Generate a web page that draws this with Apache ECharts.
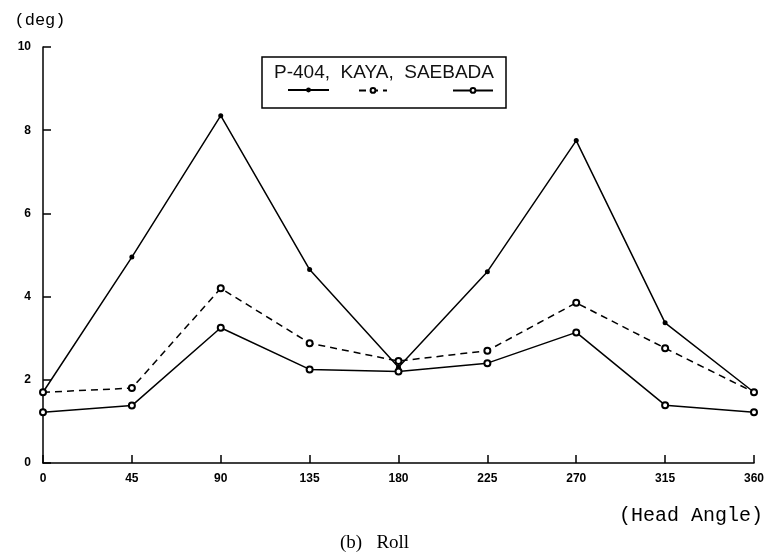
<!DOCTYPE html>
<html>
<head>
<meta charset="utf-8">
<script src="https://cdn.jsdelivr.net/npm/echarts@6/dist/echarts.min.js"></script>
<style>
  html, body { margin: 0; padding: 0; background: #fff; }
  #main { width: 767px; height: 558px; }
</style>
</head>
<body>
<div id="main"></div>
<script>
// head angle (deg)
var headAngles = ['0', '45', '90', '135', '180', '225', '270', '315', '360'];
// roll (deg)
var p404    = [1.7, 4.95, 8.35, 4.65, 2.3, 4.6, 7.75, 3.37, 1.7];
var kaya    = [1.7, 1.8, 4.2, 2.88, 2.45, 2.7, 3.85, 2.76, 1.7];
var saebada = [1.22, 1.38, 3.25, 2.25, 2.2, 2.4, 3.14, 1.39, 1.22];
var yTicks  = [0, 2, 4, 6, 8, 10];

var chart = echarts.init(document.getElementById('main'));

var labelFont = { color: '#000', fontSize: 12, fontWeight: 'bold', fontFamily: 'Liberation Sans' };

function legendAt(name, left, width) {
  return {
    data: [name],
    left: left,
    top: 87,
    padding: 0,
    itemWidth: width,
    itemHeight: 6,
    formatter: function () { return ''; },
    selectedMode: false
  };
}

chart.setOption({
  animation: false,
  backgroundColor: '#fff',
  title: [{
    text: 'P-404,  KAYA,  SAEBADA',
    left: 262,
    top: 57,
    padding: [6, 12, 26, 12],
    borderColor: '#000',
    borderWidth: 1.5,
    textStyle: { fontSize: 19, fontWeight: 'normal', color: '#111', fontFamily: 'Liberation Sans' }
  }, {
    text: '(Head Angle)',
    right: 4,
    top: 506,
    padding: 0,
    textStyle: { fontSize: 20, fontWeight: 'normal', color: '#000', fontFamily: 'Liberation Mono' }
  }, {
    text: '(b)   Roll',
    left: 340,
    top: 534,
    padding: 0,
    textStyle: { fontSize: 19, fontWeight: 'normal', color: '#000', fontFamily: 'Liberation Serif' }
  }],
  legend: [
    legendAt('P-404', 287, 41),
    legendAt('KAYA', 358, 28),
    legendAt('SAEBADA', 452, 40)
  ],
  grid: { left: 43, right: 12, top: 47, bottom: 95 },
  xAxis: {
    type: 'category',
    data: headAngles,
    boundaryGap: false,
    axisLine: { lineStyle: { color: '#000', width: 1.5 } },
    axisTick: { inside: true, length: 8, lineStyle: { color: '#000', width: 1.5 } },
    axisLabel: Object.assign({ margin: 10 }, labelFont),
    splitLine: { show: false }
  },
  yAxis: {
    type: 'value',
    min: yTicks[0],
    max: yTicks[yTicks.length - 1],
    interval: 2,
    name: '(deg)',
    nameLocation: 'end',
    nameGap: 18,
    nameTextStyle: { color: '#000', fontSize: 17, fontFamily: 'Liberation Mono', align: 'center', padding: [0, 6, 0, 0] },
    axisLine: { show: true, lineStyle: { color: '#000', width: 1.5 } },
    axisTick: { show: true, inside: true, length: 8, lineStyle: { color: '#000', width: 1.5 } },
    axisLabel: Object.assign({ margin: 12 }, labelFont),
    splitLine: { show: false }
  },
  series: [{
    name: 'P-404',
    type: 'line',
    data: p404,
    symbol: 'circle',
    symbolSize: 5,
    itemStyle: { color: '#000' },
    lineStyle: { color: '#000', width: 1.5 }
  }, {
    name: 'KAYA',
    type: 'line',
    data: kaya,
    symbol: 'emptyCircle',
    symbolSize: 6,
    itemStyle: { color: '#000', borderColor: '#000', borderWidth: 1.5 },
    lineStyle: { color: '#000', width: 1.5, type: [7, 5] }
  }, {
    name: 'SAEBADA',
    type: 'line',
    data: saebada,
    symbol: 'emptyCircle',
    symbolSize: 6,
    itemStyle: { color: '#000', borderColor: '#000', borderWidth: 1.5 },
    lineStyle: { color: '#000', width: 1.5 }
  }]
});
</script>
</body>
</html>
